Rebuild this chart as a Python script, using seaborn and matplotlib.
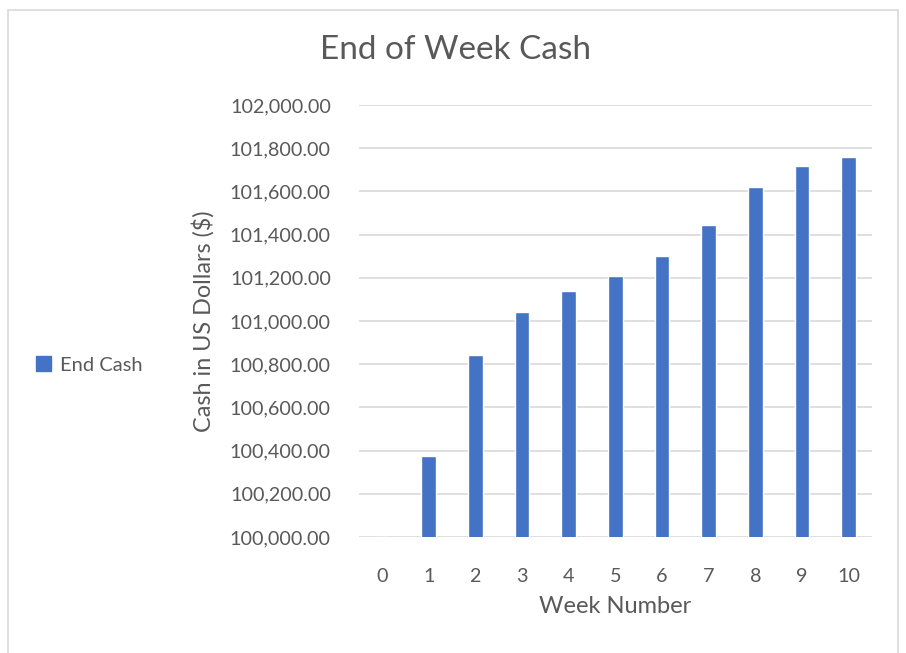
import matplotlib
matplotlib.use("Agg")
import matplotlib.pyplot as plt
import matplotlib.patches as mpatches
from matplotlib.ticker import FuncFormatter
import pandas as pd
import seaborn as sns

# values
weeks = ["0", "1", "2", "3", "4", "5", "6", "7", "8", "9", "10"]
end_cash = [100000, 100375, 100842, 101043, 101139, 101210,
            101302, 101443, 101619, 101718, 101761]
y_ticks = [100000, 100200, 100400, 100600, 100800, 101000,
           101200, 101400, 101600, 101800, 102000]

BAR = "#4472C4"
TEXT = "#595959"
GRID = "#D9D9D9"

sns.set_style("white")
plt.rcParams["font.family"] = ["Lato", "DejaVu Sans"]

df = pd.DataFrame({"Week": weeks, "End Cash": end_cash})

fig = plt.figure(figsize=(9.06, 6.53), dpi=100)
ax = fig.add_axes([358.6 / 906, 1 - 537 / 653, (872 - 358.6) / 906, (537 - 105) / 653])

sns.barplot(data=df, x="Week", y="End Cash", order=weeks, color=BAR,
            saturation=1, width=0.31, ax=ax)

ax.set_ylim(100000, 102000)
ax.set_yticks(y_ticks)
ax.yaxis.set_major_formatter(FuncFormatter(lambda v, p: f"{v:,.2f}"))
ax.grid(axis="y", color=GRID, linewidth=1.2)
ax.set_axisbelow(True)
for s in ax.spines.values():
    s.set_visible(False)
ax.tick_params(axis="both", length=0, labelsize=14.2, labelcolor=TEXT)
ax.tick_params(axis="y", pad=20)
ax.tick_params(axis="x", pad=22)

ax.set_xlabel("Week Number", fontsize=17, color=TEXT, labelpad=8)
ax.set_ylabel("Cash in US Dollars ($)", fontsize=16.8, color=TEXT, labelpad=11)
fig.text(455 / 906, 1 - 50 / 653, "End of Week Cash", fontsize=24,
         color=TEXT, ha="center", va="center")

handle = mpatches.Patch(color=BAR, label="End Cash")
fig.legend(handles=[handle], loc="center left",
           bbox_to_anchor=(18 / 906, 1 - 365 / 653), frameon=False,
           handlelength=0.75, handleheight=0.75, handletextpad=0.45,
           fontsize=14.5, labelcolor=TEXT)

# chart border
fig.patches.append(mpatches.Rectangle((8 / 906, -0.01), (898 - 8) / 906, 1 - 10 / 653 + 0.01,
                                      transform=fig.transFigure, fill=False,
                                      edgecolor="#D9D9D9", linewidth=1.2))

fig.savefig("out.png", dpi=100)
